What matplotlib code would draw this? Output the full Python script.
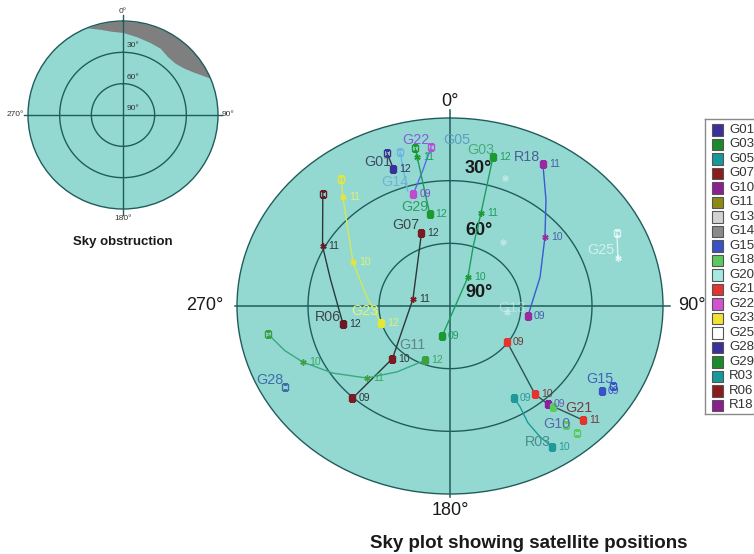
import numpy as np
import matplotlib
matplotlib.use("Agg")
import matplotlib.pyplot as plt
from matplotlib.patches import Rectangle

plt.rcParams['font.family'] = ['Liberation Sans', 'DejaVu Sans']

W, H = 754, 554

# ---------------- legend (satellite list) ----------------
sat_names = ['G01', 'G03', 'G05', 'G07', 'G10', 'G11', 'G13', 'G14', 'G15', 'G18',
             'G20', 'G21', 'G22', 'G23', 'G25', 'G28', 'G29', 'R03', 'R06', 'R18']
sat_colors = ['#3b2f9c', '#1b8a2a', '#17999a', '#8c1b1b', '#8b1f8f', '#8c8a14',
              '#d2d2d2', '#8a8a8a', '#3a52c4', '#5cc95c', '#a6e9e2', '#e3342e',
              '#d452d0', '#f2e233', '#ffffff', '#3b2f9c', '#1b8a2a', '#17999a',
              '#8c1b1b', '#8b1f8f']

# ---------------- sky obstruction boundary ----------------
obst_az = [-22, -15, -8, 0, 10, 20, 29, 37, 45, 52, 58, 63, 67]   # deg
obst_el = [0, 5, 9, 11, 14, 16, 17, 20, 20, 17, 12, 6, 0]         # deg

# ---------------- satellite tracks ----------------
# (azimuth deg, elevation deg, hour tag, marker: 'o' open, 's' filled, 'x' tick, '' none)
G01_track = [(340, 12, '', 'o'), (340, 20, '12', 's')]
G22_track = [(354, 13.5, '', 'o'), (350, 24, '', ''), (344, 34, '09', 's')]
G14_track = [(344, 13.3, '', 'o'), (342, 32, '', '')]
G29_track = [(349, 13, '', 'o'), (349, 17.4, '11', 'x'), (349, 45, '12', 's')]
G07_track = [(341, 53, '12', 's'), (282, 74, '11', 'x'), (224, 55, '10', 's'), (223, 29.5, '09', 's')]
R06_track = [(315, 14, '', 'o'), (298, 29, '11', 'x'), (284, 38, '', ''), (259, 44, '12', 's')]
G23_track = [(323, 13.6, '', 'o'), (319, 21, '11', 'x'), (297, 44, '10', 'x'), (277, 54.6, '', ''), (254.5, 59.7, '12', 's')]
G11_track = [(260, 12, '', 'o'), (253, 17, '', ''), (246.6, 22.3, '10', 'x'), (237, 31, '', ''),
             (225.5, 40.8, '11', 'x'), (215.4, 51.3, '', ''), (202, 62, '12', 's')]
G28_track = [(241, 10.2, '', 'o')]
G03_track = [(14.3, 16.4, '12', 's'), (16.4, 43.6, '11', 'x'), (19, 60, '', ''), (28.7, 74.2, '10', 'x'), (193, 75.2, '09', 's')]
R18_track = [(30, 11.5, '11', 's'), (38.6, 25, '', ''), (50.5, 38, '10', 'x'), (70, 49.5, '', ''), (98, 56.7, '09', 's')]
G21_track = [(125.5, 60.4, '09', 's'), (139.6, 34.6, '10', 's'), (138.6, 27.4, '', ''), (134.2, 11.7, '11', 's')]
G10_track = [(138.6, 27.4, '09', 's')]
G18_track = [(138, 24.9, '', 's'), (139.3, 14.8, '', 'o'), (138.6, 8.9, '', 'o')]
G15_track = [(119, 11.4, '', 'o'), (122.3, 14, '09', 's')]
R03_track = [(148.5, 38.3, '09', 's'), (148.5, 33.3, '', ''), (149.5, 25, '', ''), (148.7, 16.6, '', ''), (147.4, 9.9, '10', 's')]
G25_track = [(63.7, 11.3, '', 'o'), (72, 15.4, '', 'x')]
G13_track = [(20.8, 24.5, '', 'x'), (36, 52, '', 'x'), (97, 65.7, '', 'x')]

# satellite name tags (azimuth deg, elevation deg, text)
name_az = [336.2, 349.7, 2.1, 10, 24.5, 338.6, 342.7, 334.4, 264.2, 266, 220, 245,
           118.9, 132, 141.3, 150.3, 67.2, 92.5]
name_el = [14.7, 9.3, 10.4, 14.2, 11.6, 26.2, 40.3, 47, 38.2, 54.0, 65.5, 6.1,
           17.6, 17, 17.6, 15, 20.8, 64.0]
name_txt = ['G01', 'G22', 'G05', 'G03', 'R18', 'G14', 'G29', 'G07', 'R06', 'G23', 'G11', 'G28',
            'G15', 'G21', 'G10', 'R03', 'G25', 'G13']
name_col = ['#3f4a6a', '#8a5ad8', '#5a9fbf', '#3aa46a', '#4a5f94', '#6fb3d6', '#2e9e5e', '#3e4646',
            '#3e4646', '#e2f27a', '#5e8484', '#3d6ea8', '#3d63b8', '#7a3a4a', '#5c66b0', '#4a8c8c',
            '#eefafa', '#e6f4f2']
name_alpha = [1, 1, 1, 0.85, 1, 1, 1, 1, 1, 1, 1, 1, 1, 1, 1, 1, 0.7, 0.45]

# drawing styles: line colour, marker colour, hour-tag colour, opacity
track_list = [
    (G01_track, '#333a40', '#3b2f9c', '#2f3560', 1),
    (G22_track, '#5a6ae8', '#c04ad0', '#7a4ac0', 1),
    (G14_track, '#6ab8e0', '#6ab8e0', '#6ab8e0', 1),
    (G29_track, '#1e9e5e', '#1b9a30', '#1e9e5e', 1),
    (G07_track, '#2b3838', '#7c1a24', '#303838', 1),
    (R06_track, '#2b3838', '#6a1a24', '#303838', 1),
    (G23_track, '#d2e85c', '#e6e634', '#e0f07a', 1),
    (G11_track, '#3aa880', '#3aa040', '#3aa860', 1),
    (G28_track, None, '#3d6ea8', '#3d6ea8', 1),
    (G03_track, '#1e9e5e', '#1b9a30', '#1e9e5e', 1),
    (R18_track, '#3a5ad0', '#9a2aa0', '#4a5fa4', 1),
    (G21_track, '#2e5252', '#e3342e', '#703838', 1),
    (G10_track, None, '#8b1f9f', '#6a5ab0', 1),
    (G18_track, None, '#5cc95c', '#5cc95c', 1),
    (G15_track, None, '#3a52c4', '#3a52c4', 1),
    (R03_track, '#1e9a9a', '#1e9a9a', '#2a9a9a', 1),
    (G25_track, '#f4ffff', '#f4ffff', '#f4ffff', 0.75),
    (G13_track, None, '#e6f2f0', '#e6f2f0', 0.55),
]

SKY = '#93d9d2'
RING = '#215c5c'
OBST = '#7f7f7f'
ASTER = (6, 2, 0)   # asterisk-like tick marker

fig = plt.figure(figsize=(W / 100, H / 100), dpi=100)
fig.patch.set_facecolor('white')


def polar_axes(left, top, width, height):
    ax = fig.add_axes([left / W, 1 - (top + height) / H, width / W, height / H],
                      projection='polar')
    ax.set_aspect('auto')
    ax.set_theta_zero_location('N')
    ax.set_theta_direction(-1)
    ax.set_ylim(0, 90)
    ax.set_facecolor(SKY)
    ax.grid(False)
    ax.set_xticks([])
    ax.set_yticks([])
    ax.spines['polar'].set_edgecolor(RING)
    ax.spines['polar'].set_linewidth(1.0)
    ring_t = np.linspace(0, 2 * np.pi, 361)
    for rr in (30, 60):
        ax.plot(ring_t, np.full_like(ring_t, rr), color=RING, lw=1.0, zorder=2)
    return ax


# ---------------- small obstruction plot ----------------
axs = polar_axes(28, 21, 190, 188)
th_o = np.deg2rad(obst_az)
axs.fill_between(th_o, 90 - np.array(obst_el), 90, color=OBST, lw=0, zorder=1)
axs.plot([-0.02, 1.02], [0.5, 0.5], transform=axs.transAxes, color=RING, lw=1.0, clip_on=False, zorder=3)
axs.plot([0.5, 0.5], [-0.03, 1.03], transform=axs.transAxes, color=RING, lw=1.0, clip_on=False, zorder=3)
small_kw = dict(transform=axs.transAxes, fontsize=6, color='#333333')
axs.text(0.5, 1.048, '0°', ha='center', va='center', **small_kw)
axs.text(0.5, -0.05, '180°', ha='center', va='center', **small_kw)
axs.text(-0.02, 0.5, '270°', ha='right', va='center', **small_kw)
axs.text(1.02, 0.5, '90°', ha='left', va='center', **small_kw)
for yy, lab in zip((0.872, 0.702, 0.537), ('30°', '60°', '90°')):
    axs.text(0.521, yy, lab, ha='left', va='center', **small_kw)
fig.text(123 / W, 1 - 242 / H, 'Sky obstruction', ha='center', va='center',
         fontsize=9.5, fontweight='bold', color='#1a1a1a')

# ---------------- main sky plot ----------------
ax = polar_axes(237, 118, 426, 376)
ax.plot([-0.005, 1.016], [0.5, 0.5], transform=ax.transAxes, color=RING, lw=1.1, clip_on=False, zorder=2)
ax.plot([0.5, 0.5], [-0.008, 1.021], transform=ax.transAxes, color=RING, lw=1.1, clip_on=False, zorder=2)
main_kw = dict(transform=ax.transAxes, fontsize=13, color='#1a1a1a')
ax.text(0.5, 1.043, '0°', ha='center', va='center', **main_kw)
ax.text(0.5, -0.045, '180°', ha='center', va='center', **main_kw)
ax.text(-0.032, 0.5, '270°', ha='right', va='center', **main_kw)
ax.text(1.035, 0.5, '90°', ha='left', va='center', **main_kw)
for yy, lab in zip((0.867, 0.702, 0.535), ('30°', '60°', '90°')):
    ax.text(0.535, yy, lab, ha='left', va='center', fontweight='bold', **main_kw)

for pts, lcol, mcol, tcol, alp in track_list:
    th = np.deg2rad([p[0] for p in pts])
    rr = 90 - np.array([p[1] for p in pts], dtype=float)
    if lcol is not None and len(pts) > 1:
        ax.plot(th, rr, color=lcol, lw=1.0, alpha=alp, zorder=3)
    for t, r, (a, e, hr, kind) in zip(th, rr, pts):
        if kind == 's':
            ax.plot(t, r, 's', ms=4, mfc=mcol, mec=mcol, alpha=alp, zorder=5)
        elif kind == 'o':
            ax.plot(t, r, 's', ms=4.2, mfc='none', mec=mcol, mew=1.0, alpha=alp, zorder=5)
        elif kind == 'x':
            ax.plot(t, r, marker=ASTER, ms=4.5, color=mcol, mew=1.0, alpha=alp, zorder=5)
        if hr:
            ax.annotate(hr, (t, r), xytext=(4.3, 0), textcoords='offset points',
                        fontsize=7.5, color=tcol, ha='left', va='center', alpha=alp, zorder=6)

for a, e, txt, col, alp in zip(name_az, name_el, name_txt, name_col, name_alpha):
    ax.text(np.deg2rad(a), 90 - e, txt, fontsize=10.3, color=col, alpha=alp,
            ha='center', va='center', zorder=6)

fig.text(529 / W, 1 - 543 / H, 'Sky plot showing satellite positions', ha='center', va='center',
         fontsize=13.5, fontweight='bold', color='#1a1a1a')

# ---------------- legend box ----------------
lax = fig.add_axes([705 / W, 1 - 414 / H, 60 / W, 295 / H])
lax.set_xlim(0, 60)
lax.set_ylim(19 + 8.5 / 14.5, -11 / 14.5)
lax.set_xticks([])
lax.set_yticks([])
for s in lax.spines.values():
    s.set_edgecolor('#8a8a8a')
    s.set_linewidth(1.0)
for i, (nm, col) in enumerate(zip(sat_names, sat_colors)):
    lax.add_patch(Rectangle((7, i - 0.38), 11, 0.76, facecolor=col, edgecolor='#555555', lw=0.8))
    lax.text(24, i, nm, fontsize=9.5, color='#333333', ha='left', va='center')

fig.savefig('out.png', dpi=100)
